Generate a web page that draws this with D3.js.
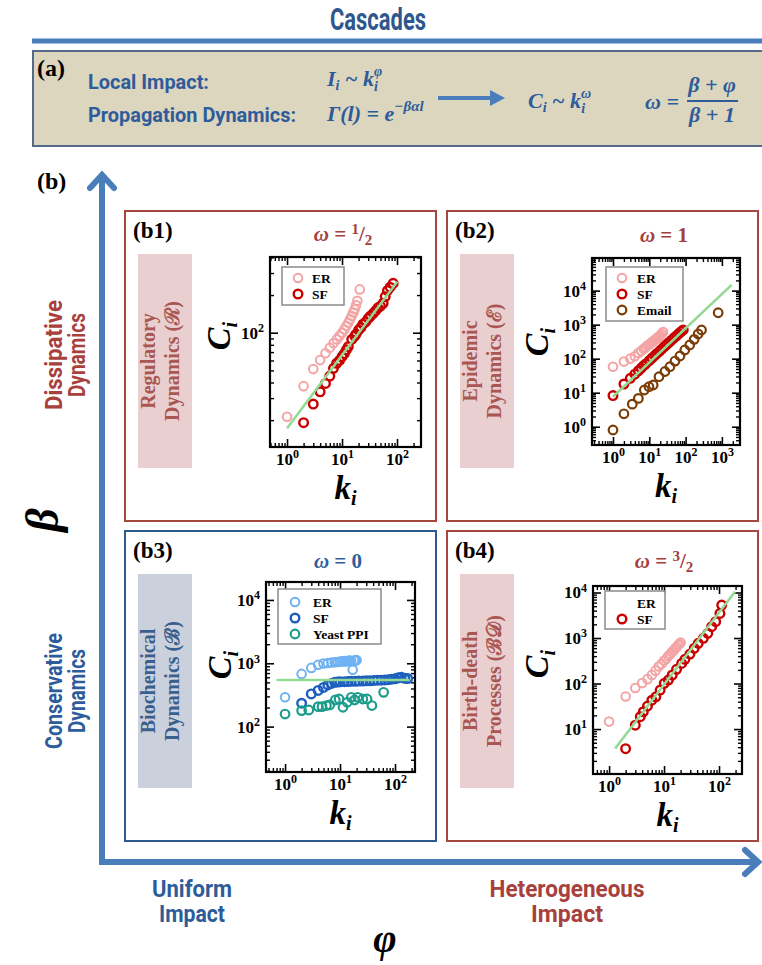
<!DOCTYPE html>
<html>
<head>
<meta charset="utf-8">
<title>Cascades</title>
<script src="https://cdn.jsdelivr.net/npm/d3@7/dist/d3.min.js"></script>
<style>
  body { margin: 0; background: #fff; }
</style>
</head>
<body>
<div id="chart"></div>
<script>
// (b1) regulatory dynamics
const b1ErK = [1, 2, 3, 4, 5, 6, 7, 8, 9, 10, 11, 12, 13, 14, 15, 16, 17, 18, 19, 21];
const b1ErC = [21.3, 37.4, 51.2, 60.4, 68.4, 75.9, 82.2, 88.4, 94, 100, 106, 113, 120, 128, 136, 145, 154, 166, 180, 222];
const b1SfK = [2, 3, 4, 5, 6, 7, 8, 9, 10, 11, 12, 13, 15, 17, 18, 20, 22, 24, 27, 30, 33, 37, 41, 45, 50, 56, 61, 67, 75, 85];
const b1SfC = [19.1, 26.9, 33.7, 39.3, 45, 51.9, 57, 60, 64.3, 68, 73, 77.3, 88.4, 94, 97.6, 105, 110, 117, 122, 130, 136, 143, 150, 158, 163, 172, 194, 217, 231, 248];
const b1FitK = [1, 101];
const b1FitC = [17.2, 256];
const b1XTicks = [1, 10, 100];
const b1YTicks = [100];

// (b2) epidemic dynamics
const b2ErK = [1, 2, 3, 4, 5, 6, 7, 8, 9, 10, 11, 12, 13, 14, 15, 16, 17, 18, 19, 20, 22, 24];
const b2ErC = [58, 82, 100, 118, 146, 168, 196, 215, 242, 260, 286, 303, 330, 345, 372, 388, 415, 430, 455, 490, 540, 610];
const b2SfK = [1, 2, 3, 4, 5, 6, 7, 8, 10, 12, 14, 16, 19, 22, 26, 30, 35, 41, 48, 56, 65, 75, 86];
const b2SfC = [8.2, 18, 26.5, 35, 44, 53, 62, 70, 88, 105, 122, 140, 165, 190, 225, 260, 300, 350, 410, 470, 545, 620, 700];
const b2EmK = [1, 2, 3.4, 5, 7.3, 9.8, 12.8, 18.5, 27, 37, 51, 70, 95, 130, 173, 222, 275, 790];
const b2EmC = [0.8, 2.4, 4.6, 6.8, 12, 15, 16.8, 29.5, 42, 58, 85, 120, 180, 252, 370, 531, 696, 2240];
const b2FitK = [1, 1860];
const b2FitC = [7.6, 14700];
const b2XTicks = [1, 10, 100, 1000];
const b2YTicks = [1, 10, 100, 1000, 10000];

// (b3) biochemical dynamics
const b3ErK = [1, 2, 3, 4, 5, 6, 7, 8, 9, 10, 11, 12, 13, 14, 15, 16, 17, 18, 19, 20];
const b3ErC = [290, 680, 845, 950, 990, 1010, 1030, 1040, 1050, 1060, 1070, 1080, 1070, 1090, 1100, 1080, 790, 1100, 1110, 1120];
const b3SfK = [2, 3, 4, 5, 6, 7, 8, 9, 10, 12, 14, 16, 19, 22, 26, 30, 35, 41, 48, 56, 65, 75, 86, 100, 115, 130, 150, 170];
const b3SfC = [234, 328, 372, 415, 455, 480, 500, 505, 510, 512, 515, 520, 520, 525, 525, 530, 530, 535, 540, 540, 545, 550, 560, 570, 590, 600, 580, 575];
const b3YpK = [1, 2, 2.7, 4, 4.7, 5.65, 6.5, 8.2, 9.6, 11.3, 13.5, 16, 18.4, 21, 26, 31, 38, 62];
const b3YpC = [158, 179, 183, 207, 207, 215, 220, 263, 273, 202, 242, 290, 263, 290, 273, 273, 215, 348];
const b3FitK = [0.7, 182];
const b3FitC = [545, 545];
const b3XTicks = [1, 10, 100];
const b3YTicks = [100, 1000, 10000];

// (b4) birth-death processes
const b4ErK = [1, 2, 3, 4, 5, 6, 7, 8, 9, 10, 11, 12, 13, 14, 15, 16, 17, 18, 19, 20];
const b4ErC = [14.6, 52, 80, 103, 125, 155, 192, 236, 270, 316, 352, 405, 445, 497, 535, 595, 636, 695, 740, 800];
const b4SfK = [2, 3, 3.7, 4.2, 5, 6, 7.1, 8.5, 10.1, 12, 14.1, 16.9, 20.9, 24, 29.6, 35.5, 42, 52, 62.6, 73.5, 87, 104, 112];
const b4SfC = [3.7, 12.2, 18.7, 24, 32, 43, 51, 72, 101, 119, 154, 205, 277, 340, 445, 593, 764, 984, 1270, 1775, 2290, 3480, 5310];
const b4FitK = [1.29, 195];
const b4FitC = [3.76, 10400];
const b4XTicks = [1, 10, 100];
const b4YTicks = [10, 100, 1000, 10000];

const serif = '"Liberation Serif", "Times New Roman", serif';
const narrow = '"Liberation Sans Narrow", "Roboto", "DejaVu Sans", sans-serif';

const textBlue = "#2e5c9a", textRed = "#a8403c", arrowBlue = "#4a7ebb";
const erPink = "#f4a4a4", sfRed = "#c80000", emailBrown = "#7a3c06";
const erBlue = "#6fb2f2", sfBlue = "#1d5fbd", yeastTeal = "#1d9c8c", fitGreen = "#92d992";

const svg = d3.select("#chart").append("svg")
    .attr("width", 762)
    .attr("height", 965)
    .style("background", "#fff");

// condensed bold label: squeeze a taller font into the width seen in the figure
function narrowText(x, y, size, width, color, str) {
    return svg.append("text").attr("x", x).attr("y", y)
        .attr("font-family", narrow).attr("font-weight", "bold").attr("font-size", size)
        .attr("fill", color).attr("textLength", width).attr("lengthAdjust", "spacingAndGlyphs")
        .text(str);
}

// ---------- header ----------
narrowText(330, 30, 32, 96, "#2e578c", "Cascades");

svg.append("rect").attr("x", 32).attr("y", 38.5).attr("width", 740).attr("height", 5).attr("fill", arrowBlue);

svg.append("rect")
    .attr("x", 33).attr("y", 51).attr("width", 740).attr("height", 95)
    .attr("fill", "#dcd6bf").attr("stroke", "#56698a").attr("stroke-width", 2);

svg.append("text").attr("x", 37).attr("y", 76)
    .attr("font-family", serif).attr("font-weight", "bold").attr("font-size", 24)
    .text("(a)");

narrowText(88, 89, 21, 121, textBlue, "Local Impact:");
narrowText(88, 122, 21, 208, textBlue, "Propagation Dynamics:");

function mathText(x, y, size) {
    return svg.append("text").attr("x", x).attr("y", y)
        .attr("font-family", serif).attr("font-weight", "bold").attr("font-style", "italic")
        .attr("font-size", size).attr("fill", textBlue);
}

// I_i ~ k_i^phi
let t = mathText(327, 86, 22);
t.append("tspan").text("I");
t.append("tspan").attr("font-size", 14).attr("dy", 4).text("i");
t.append("tspan").attr("dy", -4).text(" ~ k");
t.append("tspan").attr("font-size", 14).attr("dy", 5).text("i");
t.append("tspan").attr("font-size", 14).attr("dx", -4).attr("dy", -15).text("φ");

// Gamma(l) = e^{-beta alpha l}
t = mathText(327, 121, 22);
t.append("tspan").text("Γ(l) = e");
t.append("tspan").attr("font-size", 15).attr("dy", -10).text("−βαl");

// arrow
svg.append("line").attr("x1", 438).attr("y1", 98).attr("x2", 494).attr("y2", 98)
    .attr("stroke", arrowBlue).attr("stroke-width", 4);
svg.append("path").attr("d", "M490,90 L505,98 L490,106 Z").attr("fill", arrowBlue);

// C_i ~ k_i^omega
t = mathText(528, 108, 22);
t.append("tspan").text("C");
t.append("tspan").attr("font-size", 14).attr("dy", 4).text("i");
t.append("tspan").attr("dy", -4).text(" ~ k");
t.append("tspan").attr("font-size", 14).attr("dy", 5).text("i");
t.append("tspan").attr("font-size", 14).attr("dx", -4).attr("dy", -15).text("ω");

// omega = (beta + phi) / (beta + 1)
mathText(645, 109, 22).text("ω =");
mathText(712, 92, 22).attr("text-anchor", "middle").text("β + φ");
svg.append("line").attr("x1", 687).attr("x2", 738).attr("y1", 101).attr("y2", 101)
    .attr("stroke", textBlue).attr("stroke-width", 2);
mathText(712, 122, 22).attr("text-anchor", "middle").text("β + 1");

// ---------- (b) frame: beta / phi arrows ----------
svg.append("text").attr("x", 37).attr("y", 189)
    .attr("font-family", serif).attr("font-weight", "bold").attr("font-size", 24)
    .text("(b)");

svg.append("path")
    .attr("d", "M102,176 L102,862 L756,862")
    .attr("fill", "none").attr("stroke", arrowBlue).attr("stroke-width", 6);
svg.append("path")
    .attr("d", "M90,188 L102,175 L114,188")
    .attr("fill", "none").attr("stroke", arrowBlue).attr("stroke-width", 6).attr("stroke-linecap", "round");
svg.append("path")
    .attr("d", "M745,850 L758,862 L745,874")
    .attr("fill", "none").attr("stroke", arrowBlue).attr("stroke-width", 6).attr("stroke-linecap", "round");

svg.append("text")
    .attr("transform", "translate(58,520) rotate(-90)")
    .attr("text-anchor", "middle")
    .attr("font-family", serif).attr("font-weight", "bold").attr("font-style", "italic").attr("font-size", 46)
    .text("β");

function twoLines(x, y, rotate, lines, widths, color, gap) {
    const g = svg.append("text")
        .attr("transform", `translate(${x},${y})` + (rotate ? " rotate(-90)" : ""))
        .attr("text-anchor", "middle")
        .attr("font-family", narrow).attr("font-weight", "bold").attr("font-size", 23)
        .attr("fill", color);
    lines.forEach((s, i) => {
        g.append("tspan").attr("x", 0).attr("y", i * gap)
            .attr("textLength", widths[i]).attr("lengthAdjust", "spacingAndGlyphs")
            .text(s);
    });
}
twoLines(62, 355, true, ["Dissipative", "Dynamics"], [110, 84], textRed, 23);
twoLines(62, 691, true, ["Conservative", "Dynamics"], [116, 84], textBlue, 23);
twoLines(192, 897, false, ["Uniform", "Impact"], [80, 66], textBlue, 25);
twoLines(567, 897, false, ["Heterogeneous", "Impact"], [155, 72], textRed, 25);

svg.append("text").attr("x", 385).attr("y", 952)
    .attr("text-anchor", "middle")
    .attr("font-family", serif).attr("font-weight", "bold").attr("font-style", "italic").attr("font-size", 40)
    .text("φ");

// ---------- panels ----------
const panels = [
    {
        tag: "(b1)", box: [125, 211, 311, 310], edge: "#a5463f",
        sideFill: "#e9cfcf", sideColor: "#aa5652", side: ["Regulatory", "Dynamics (ℛ)"],
        titleColor: "#a3403d", omega: { num: "1", den: "2" }, omegaX: 343, omegaY: 241,
        fx: 270, fy: 257, fw: 151, fh: 190, xDom: [0.49, 273], yDom: [12.2, 403],
        xTicks: b1XTicks, yTicks: b1YTicks,
        series: [
            { k: b1ErK, c: b1ErC, color: erPink, label: "ER", sw: 2 },
            { k: b1SfK, c: b1SfC, color: sfRed, label: "SF", sw: 2.4 }
        ],
        fitK: b1FitK, fitC: b1FitC,
        legend: { x: 282, y: 267, w: 62, h: 38, mx: 298, tx: 312, ys: [278, 294] },
        cx: 218, cy: 336
    },
    {
        tag: "(b2)", box: [447, 211, 311, 310], edge: "#a5463f",
        sideFill: "#e9cfcf", sideColor: "#aa5652", side: ["Epidemic", "Dynamics (ℰ)"],
        titleColor: "#a3403d", omega: { value: "1" }, omegaX: 664, omegaY: 242,
        fx: 592, fy: 258, fw: 148, fh: 187, xDom: [0.264, 3155], yDom: [0.29, 91000],
        xTicks: b2XTicks, yTicks: b2YTicks,
        series: [
            { k: b2ErK, c: b2ErC, color: erPink, label: "ER", sw: 2 },
            { k: b2SfK, c: b2SfC, color: sfRed, label: "SF", sw: 2.4 },
            { k: b2EmK, c: b2EmC, color: emailBrown, label: "Email", sw: 2.2 }
        ],
        fitK: b2FitK, fitC: b2FitC,
        legend: { x: 606, y: 267, w: 77, h: 54, mx: 622, tx: 637, ys: [278, 294, 310] },
        cx: 536, cy: 342
    },
    {
        tag: "(b3)", box: [125, 531, 311, 310], edge: "#2c5a8c",
        sideFill: "#cbd1dc", sideColor: "#3a5f8f", side: ["Biochemical", "Dynamics (ℬ)"],
        titleColor: "#2f5f9a", omega: { value: "0" }, omegaX: 338, omegaY: 568,
        fx: 266, fy: 582, fw: 149, fh: 190, xDom: [0.45, 231], yDom: [19.2, 19200],
        xTicks: b3XTicks, yTicks: b3YTicks,
        series: [
            { k: b3ErK, c: b3ErC, color: erBlue, label: "ER", sw: 2 },
            { k: b3SfK, c: b3SfC, color: sfBlue, label: "SF", sw: 2.4 },
            { k: b3YpK, c: b3YpC, color: yeastTeal, label: "Yeast PPI", sw: 2.2 }
        ],
        fitK: b3FitK, fitC: b3FitC,
        legend: { x: 278, y: 589, w: 103, h: 55, mx: 295, tx: 313, ys: [602, 618, 634] },
        cx: 219, cy: 665
    },
    {
        tag: "(b4)", box: [447, 531, 311, 310], edge: "#a5463f",
        sideFill: "#e9cfcf", sideColor: "#aa5652", side: ["Birth-death", "Processes (ℬ𝒟)"],
        titleColor: "#a3403d", omega: { num: "3", den: "2" }, omegaX: 664, omegaY: 568,
        fx: 593, fy: 586, fw: 149, fh: 188, xDom: [0.51, 262], yDom: [1.03, 13900],
        xTicks: b4XTicks, yTicks: b4YTicks,
        series: [
            { k: b4ErK, c: b4ErC, color: erPink, label: "ER", sw: 2, noMarker: true },
            { k: b4SfK, c: b4SfC, color: sfRed, label: "SF", sw: 2.4 }
        ],
        fitK: b4FitK, fitC: b4FitC,
        legend: { x: 605, y: 591, w: 60, h: 38, mx: 622, tx: 637, ys: [603, 619] },
        cx: 536, cy: 664
    }
];

const isDecade = v => Math.abs(Math.log10(v) - Math.round(Math.log10(v))) < 1e-9;

function powLabel(sel) {
    sel.selectAll(".tick text").each(function (d) {
        const tx = d3.select(this);
        tx.text(null);
        tx.append("tspan").text("10");
        tx.append("tspan").attr("dy", "-0.55em").attr("font-size", 12).text(Math.round(Math.log10(d)));
    });
}

function drawPanel(p) {
    const g = svg.append("g");
    const [bx, by, bw, bh] = p.box;

    g.append("rect").attr("x", bx).attr("y", by).attr("width", bw).attr("height", bh)
        .attr("fill", "#fff").attr("stroke", p.edge).attr("stroke-width", 2);

    g.append("text").attr("x", bx + 8).attr("y", by + 27)
        .attr("font-family", serif).attr("font-weight", "bold").attr("font-size", 23)
        .text(p.tag);

    // coloured side label
    g.append("rect").attr("x", bx + 13).attr("y", by + 43).attr("width", 54).attr("height", 214)
        .attr("fill", p.sideFill);
    const side = g.append("text")
        .attr("transform", `translate(${bx + 40},${by + 150}) rotate(-90)`)
        .attr("text-anchor", "middle")
        .attr("font-family", serif).attr("font-weight", "bold").attr("font-size", 20)
        .attr("fill", p.sideColor);
    side.append("tspan").attr("x", 0).attr("y", -10).text(p.side[0]);
    side.append("tspan").attr("x", 0).attr("y", 14).text(p.side[1]);

    // omega title
    const om = g.append("text").attr("x", p.omegaX).attr("y", p.omegaY)
        .attr("text-anchor", "middle")
        .attr("font-family", serif).attr("font-weight", "bold").attr("font-size", 21)
        .attr("fill", p.titleColor);
    om.append("tspan").attr("font-style", "italic").text("ω");
    if (p.omega.value) {
        om.append("tspan").text(" = " + p.omega.value);
    } else {
        om.append("tspan").text(" = ");
        om.append("tspan").attr("font-size", 15).attr("dy", -7).text(p.omega.num);
        om.append("tspan").attr("dy", 7).text("/");
        om.append("tspan").attr("font-size", 15).attr("dy", 4).text(p.omega.den);
    }

    const x = d3.scaleLog().domain(p.xDom).range([p.fx, p.fx + p.fw]);
    const y = d3.scaleLog().domain(p.yDom).range([p.fy + p.fh, p.fy]);

    const xMinor = x.ticks().filter(v => !isDecade(v));
    const yMinor = y.ticks().filter(v => !isDecade(v));
    const xMajor = x.ticks().filter(isDecade);
    const yMajor = y.ticks().filter(isDecade);

    const axes = [
        [d3.axisBottom, x, `translate(0,${p.fy + p.fh})`, xMinor, xMajor, p.xTicks],
        [d3.axisTop, x, `translate(0,${p.fy})`, xMinor, xMajor, null],
        [d3.axisLeft, y, `translate(${p.fx},0)`, yMinor, yMajor, p.yTicks],
        [d3.axisRight, y, `translate(${p.fx + p.fw},0)`, yMinor, yMajor, null]
    ];
    axes.forEach(([axisFn, sc, tr, minor, major, labelled]) => {
        g.append("g").attr("transform", tr)
            .call(axisFn(sc).tickValues(minor).tickSize(-4).tickFormat(""))
            .call(a => a.select(".domain").remove())
            .call(a => a.selectAll("line").attr("stroke", "#000").attr("stroke-width", 1.4));
        const ax = g.append("g").attr("transform", tr)
            .call(axisFn(sc).tickValues(major).tickSize(-8).tickPadding(6)
                .tickFormat(d => (labelled && labelled.includes(d)) ? d : ""))
            .call(a => a.select(".domain").remove())
            .call(a => a.selectAll("line").attr("stroke", "#000").attr("stroke-width", 1.6))
            .attr("font-family", serif).attr("font-weight", "bold").attr("font-size", 17);
        ax.selectAll(".tick text").attr("fill", "#000");
        if (labelled) {
            ax.selectAll(".tick").filter(d => !labelled.includes(d)).select("text").remove();
            powLabel(ax);
        }
    });

    g.append("rect").attr("x", p.fx).attr("y", p.fy).attr("width", p.fw).attr("height", p.fh)
        .attr("fill", "none").attr("stroke", "#000").attr("stroke-width", 2.2);

    // data points
    p.series.forEach(s => {
        g.append("g").selectAll("circle")
            .data(d3.zip(s.k, s.c))
            .join("circle")
            .attr("cx", d => x(d[0]))
            .attr("cy", d => y(d[1]))
            .attr("r", 4.3)
            .attr("fill", "none")
            .attr("stroke", s.color)
            .attr("stroke-width", s.sw);
    });

    // fitted power law
    g.append("path")
        .datum(d3.zip(p.fitK, p.fitC))
        .attr("fill", "none")
        .attr("stroke", fitGreen)
        .attr("stroke-width", 2.5)
        .attr("d", d3.line().x(d => x(d[0])).y(d => y(d[1])));

    // legend
    const L = p.legend;
    g.append("rect").attr("x", L.x).attr("y", L.y).attr("width", L.w).attr("height", L.h)
        .attr("fill", "#fff").attr("stroke", "#8a8a8a").attr("stroke-width", 1.5);
    p.series.forEach((s, i) => {
        if (!s.noMarker) {
            g.append("circle").attr("cx", L.mx).attr("cy", L.ys[i]).attr("r", 4.3)
                .attr("fill", "none").attr("stroke", s.color).attr("stroke-width", s.sw);
        }
        g.append("text").attr("x", L.tx).attr("y", L.ys[i]).attr("dy", "0.35em")
            .attr("font-family", serif).attr("font-weight", "bold").attr("font-size", 13.5)
            .text(s.label);
    });

    // axis titles
    const cl = g.append("text")
        .attr("transform", `translate(${p.cx},${p.cy}) rotate(-90)`)
        .attr("text-anchor", "middle").attr("dy", "0.35em")
        .attr("font-family", serif).attr("font-weight", "bold").attr("font-style", "italic").attr("font-size", 34);
    cl.append("tspan").text("C");
    cl.append("tspan").attr("font-size", 20).attr("dy", 7).text("i");

    const kl = g.append("text")
        .attr("x", p.fx + p.fw / 2).attr("y", p.fy + p.fh + 52)
        .attr("text-anchor", "middle")
        .attr("font-family", serif).attr("font-weight", "bold").attr("font-style", "italic").attr("font-size", 33);
    kl.append("tspan").text("k");
    kl.append("tspan").attr("font-size", 20).attr("dy", 6).text("i");
}

panels.forEach(drawPanel);
</script>
</body>
</html>
